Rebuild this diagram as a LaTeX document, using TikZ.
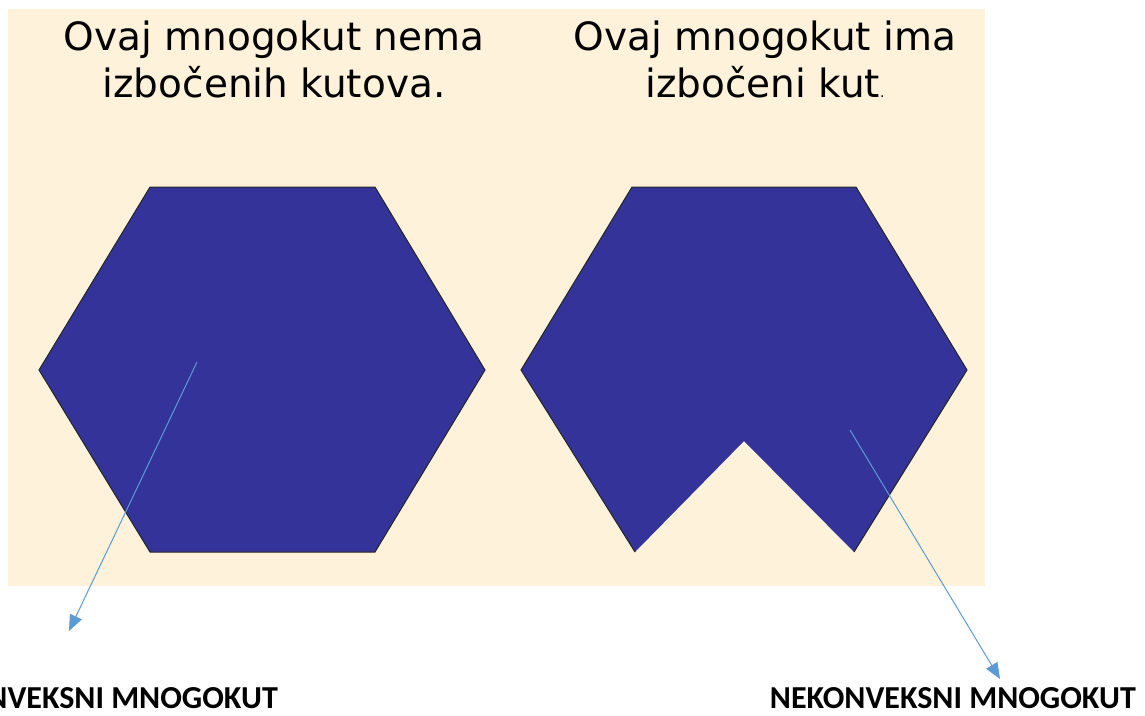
\documentclass[tikz,border=0pt]{standalone}
\usepackage{fontspec}
\setmainfont{DejaVu Sans}
\newfontfamily\labelfont{Carlito}
\usetikzlibrary{arrows.meta}
\definecolor{bgcream}{HTML}{FFF2DA}
\definecolor{polyblue}{HTML}{333399}
\definecolor{arrowblue}{HTML}{5B9BD5}
\tikzset{
  titletext/.style={inner sep=0pt, anchor=base, font=\fontsize{39}{47}\selectfont},
  labeltext/.style={inner sep=0pt, anchor=base east, font=\labelfont\bfseries\fontsize{32}{36}\selectfont},
  pointer/.style={draw=arrowblue, line width=1pt, -{Triangle[length=16pt,width=13pt]}},
  polyfill/.style={fill=polyblue, draw=none},
  polyedge/.style={draw=black!85, line width=1pt, line join=miter}
}
\begin{document}
\begin{tikzpicture}[x=1pt,y=-1pt]
\useasboundingbox (0,0) rectangle (1145,715);
\fill[bgcream] (8,9) rectangle (985,586);
% convex hexagon
\path[polyfill] (150,187) -- (375,187) -- (485,370) -- (375,552) -- (150,552) -- (39,370) -- cycle;
\draw[polyedge] (150,187) -- (375,187) -- (485,370) -- (375,552) -- (150,552) -- (39,370) -- cycle;
% non-convex polygon
\path[polyfill] (632,187) -- (856,187) -- (967,370) -- (854,552) -- (744,441) -- (635,552) -- (521,370) -- cycle;
\draw[polyedge] (854,552) -- (967,370) -- (856,187) -- (632,187) -- (521,370) -- (635,552);
% titles
\node[titletext] (t1a) at (274,50) {Ovaj mnogokut nema};
\node[titletext] (t1b) at (274,97) {izbočenih kutova.};
\node[titletext] (t2a) at (765,50) {Ovaj mnogokut ima};
\node[titletext] (t2b) at (765,97) {izbočeni kut{\fontsize{14}{16}\selectfont.}};
% labels
\node[labeltext] (l1) at (278,708) {KONVEKSNI MNOGOKUT};
\node[labeltext] (l2) at (1136,708) {NEKONVEKSNI MNOGOKUT};
% pointers
\coordinate (s1) at (197,362);
\coordinate (e1) at (69,631);
\coordinate (s2) at (850,430);
\coordinate (e2) at (1000,679);
\draw[pointer] (s1) -- (e1);
\draw[pointer] (s2) -- (e2);
\end{tikzpicture}
\end{document}
